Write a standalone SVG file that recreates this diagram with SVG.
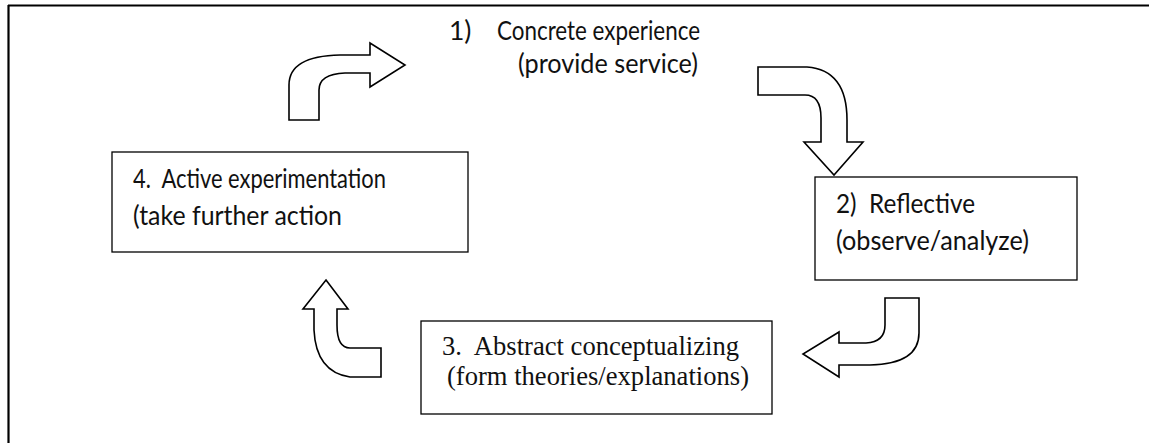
<svg xmlns="http://www.w3.org/2000/svg" width="1149" height="443" viewBox="0 0 1149 443" xml:space="preserve">
<style>
text{white-space:pre}
.frame{stroke:#000;stroke-width:2.2;fill:none}
.box{fill:#fff;stroke:#000;stroke-width:1.3}
.arr{fill:#fff;stroke:#000;stroke-width:1.6;stroke-linejoin:miter}
.cal{font-family:"Lato","Open Sans","Liberation Sans",sans-serif;font-size:26.5px;fill:#111}
.tim{font-family:"Liberation Serif","Times New Roman",serif;font-size:26.5px;fill:#111}
</style>
<rect width="1149" height="443" fill="#fff"/>
<g id="frame">
<line class="frame" x1="8" y1="5.5" x2="1149" y2="5.5"/>
<line class="frame" x1="8.5" y1="5" x2="8.5" y2="443"/>
</g>
<g id="node1">
<text class="cal" x="449" y="40">1)</text>
<text class="cal" x="497" y="40" textLength="203" lengthAdjust="spacingAndGlyphs">Concrete experience</text>
<text class="cal" x="518" y="73" textLength="180" lengthAdjust="spacingAndGlyphs">(provide service)</text>
</g>
<g id="node2">
<rect class="box" x="815" y="177" width="262" height="103"/>
<text class="cal" x="836" y="213" textLength="139" lengthAdjust="spacingAndGlyphs">2)  Reflective</text>
<text class="cal" x="836" y="250" textLength="193" lengthAdjust="spacingAndGlyphs">(observe/analyze)</text>
</g>
<g id="node3">
<rect class="box" x="421" y="321" width="351" height="93"/>
<text class="tim" x="442" y="355" textLength="297" lengthAdjust="spacingAndGlyphs">3.  Abstract conceptualizing</text>
<text class="tim" x="447" y="385" textLength="302" lengthAdjust="spacingAndGlyphs">(form theories/explanations)</text>
</g>
<g id="node4">
<rect class="box" x="112" y="152" width="356" height="100"/>
<text class="cal" x="133" y="188" textLength="253" lengthAdjust="spacingAndGlyphs">4.  Active experimentation</text>
<text class="cal" x="133" y="225" textLength="209" lengthAdjust="spacingAndGlyphs">(take further action</text>
</g>
<g id="connectors">
<path class="arr" d="M289,120 L289,85 Q289,56 340,55 L370,55 L370,43 L405,65 L370,87 L370,73 L345,73 Q319,74 319,90 L319,120 Z"/>
<path class="arr" d="M758,67 L807,67 Q847,70 847,120 L847,142 L863,142 L834,175 L804,142 L821,142 L821,118 Q821,95 805,95 L758,95 Z"/>
<path class="arr" d="M885,298 L919,298 L919,333 Q919,364 870,365 L839,365 L839,377 L803,354 L839,332 L839,343 L866,343 Q885,342 885,325 Z"/>
<path class="arr" d="M326,280 L348,309 L337,309 L337,325 Q337,348 350,348 L381,348 L381,377 L350,377 Q316,372 314,330 L314,309 L303,309 Z"/>
</g>
</svg>
